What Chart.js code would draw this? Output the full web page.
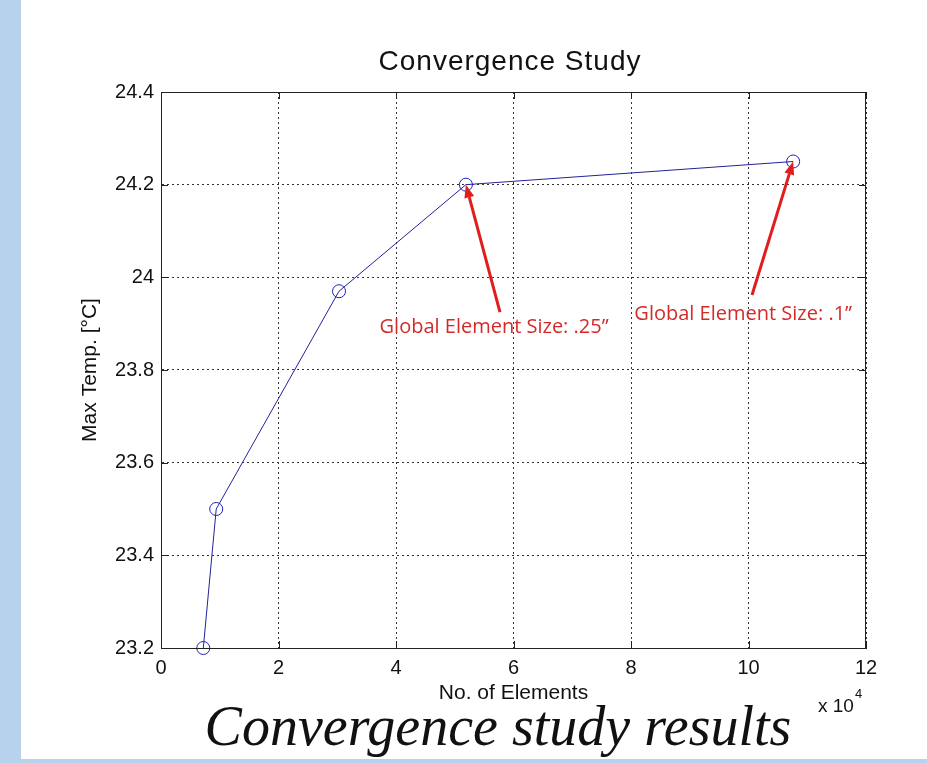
<!DOCTYPE html>
<html>
<head>
<meta charset="utf-8">
<script src="https://cdn.jsdelivr.net/npm/chart.js@4/dist/chart.umd.min.js"></script>
<style>
  html, body { margin: 0; padding: 0; background: #fff; overflow: hidden; }
  #wrap { position: relative; width: 927px; height: 763px; }
  #leftBar { position: absolute; left: 0; top: 0; width: 21px; height: 763px; background: #b6d2ec; }
  #bottomBar { position: absolute; left: 0; top: 759px; width: 927px; height: 4px; background: #b6d2ec; }
  canvas { position: absolute; left: 0; top: 0; }
</style>
</head>
<body>
<div id="wrap">
  <div id="leftBar"></div>
  <div id="bottomBar"></div>
  <canvas id="grafica" width="927" height="763"></canvas>
</div>
<script>
// number of elements, in units of 10^4
const nElements = [0.72, 0.94, 3.03, 5.19, 10.76];
// max temperature in deg C
const maxTemp = [23.2, 23.5, 23.97, 24.2, 24.25];

const xTicks = [0, 2, 4, 6, 8, 10, 12];
const yTicks = [23.2, 23.4, 23.6, 23.8, 24, 24.2, 24.4];

// red callouts: which point they point at, where the arrow starts, where the text sits
const noteTexts = ['Global Element Size: .25\u201D', 'Global Element Size: .1\u201D'];
const notePoint = [3, 4];
const noteTail = [[5.77, 23.925], [10.06, 23.962]];
const noteLabel = [[5.67, 23.893], [9.91, 23.921]];

const points = nElements.map((x, i) => ({ x: x, y: maxTemp[i] }));

const extras = {
    id: 'extras',
    afterDraw(chart) {
        const ctx = chart.ctx;
        const a = chart.chartArea;
        const xs = chart.scales.x, ys = chart.scales.y;
        ctx.save();

        // box on top/right
        ctx.strokeStyle = '#222';
        ctx.lineWidth = 1;
        ctx.strokeRect(a.left + 0.5, a.top + 0.5, a.right - a.left - 1, a.bottom - a.top);

        // inner tick marks like matlab
        ctx.beginPath();
        xTicks.forEach(v => {
            const px = Math.round(xs.getPixelForValue(v)) + 0.5;
            ctx.moveTo(px, a.bottom); ctx.lineTo(px, a.bottom - 7);
            ctx.moveTo(px, a.top); ctx.lineTo(px, a.top + 7);
        });
        yTicks.forEach(v => {
            const py = Math.round(ys.getPixelForValue(v)) + 0.5;
            ctx.moveTo(a.left, py); ctx.lineTo(a.left + 7, py);
            ctx.moveTo(a.right, py); ctx.lineTo(a.right - 7, py);
        });
        ctx.stroke();

        // title
        ctx.fillStyle = '#111';
        ctx.textAlign = 'center';
        ctx.textBaseline = 'middle';
        ctx.font = '28px "Liberation Sans", Arial, sans-serif';
        ctx.letterSpacing = '1px';
        ctx.fillText('Convergence Study', 510, 62);
        ctx.letterSpacing = '0px';

        // x 10^4
        ctx.textAlign = 'left';
        ctx.font = '19px "Liberation Sans", Arial, sans-serif';
        ctx.fillText('x 10', 818, 707);
        ctx.font = '13px "Liberation Sans", Arial, sans-serif';
        ctx.fillText('4', 855, 694);

        // arrows and labels
        noteTexts.forEach((t, i) => {
            const p = points[notePoint[i]];
            const hx = xs.getPixelForValue(p.x), hy = ys.getPixelForValue(p.y);
            const tx = xs.getPixelForValue(noteTail[i][0]), ty = ys.getPixelForValue(noteTail[i][1]);
            const ang = Math.atan2(hy - ty, hx - tx);
            const hl = 13, hw = 5;
            const bx = hx - hl * Math.cos(ang), by = hy - hl * Math.sin(ang);
            ctx.strokeStyle = '#e01e1e';
            ctx.fillStyle = '#e01e1e';
            ctx.lineWidth = 3;
            ctx.beginPath();
            ctx.moveTo(tx, ty);
            ctx.lineTo(bx, by);
            ctx.stroke();
            ctx.beginPath();
            ctx.moveTo(hx, hy);
            ctx.lineTo(bx + hw * Math.sin(ang), by - hw * Math.cos(ang));
            ctx.lineTo(bx - hw * Math.sin(ang), by + hw * Math.cos(ang));
            ctx.closePath();
            ctx.fill();

            ctx.fillStyle = '#d42a2a';
            ctx.font = '20px "Open Sans", sans-serif';
            ctx.textAlign = 'center';
            ctx.fillText(t, xs.getPixelForValue(noteLabel[i][0]), ys.getPixelForValue(noteLabel[i][1]));
        });

        // caption under the chart
        ctx.fillStyle = '#111';
        ctx.textAlign = 'center';
        ctx.textBaseline = 'alphabetic';
        ctx.font = 'italic 56px "Liberation Serif", "DejaVu Serif", serif';
        ctx.fillText('Convergence study results', 498, 745);
        ctx.restore();
    }
};

const ctx = document.getElementById('grafica').getContext('2d');
new Chart(ctx, {
    type: 'line',
    data: {
        datasets: [{
            label: 'Max Temp',
            data: points,
            borderColor: '#22229a',
            borderWidth: 1,
            pointStyle: 'circle',
            pointRadius: 6.5,
            pointBorderWidth: 1,
            pointBorderColor: '#2020c0',
            pointBackgroundColor: 'rgba(0,0,0,0)',
            tension: 0,
            clip: false
        }]
    },
    options: {
        responsive: false,
        animation: false,
        layout: { padding: { top: 92, left: 0, right: 61, bottom: 0 } },
        plugins: {
            legend: { display: false },
            title: { display: false },
            tooltip: { enabled: false }
        },
        scales: {
            x: {
                type: 'linear',
                min: 0,
                max: 12,
                afterFit: s => { s.height = 115; },
                afterBuildTicks: s => { s.ticks = xTicks.map(v => ({ value: v })); },
                ticks: {
                    color: '#111',
                    padding: 8,
                    maxRotation: 0,
                    font: { family: '"Liberation Sans", Arial, sans-serif', size: 20 },
                    callback: v => String(v)
                },
                grid: { color: '#333', lineWidth: 1, drawTicks: false },
                border: { display: true, color: '#222', width: 1, dash: [2, 3] },
                title: {
                    display: true,
                    text: 'No. of Elements',
                    color: '#111',
                    font: { family: '"Liberation Sans", Arial, sans-serif', size: 21 },
                    padding: { top: 0, bottom: 57 }
                }
            },
            y: {
                type: 'linear',
                min: 23.2,
                max: 24.4,
                afterFit: s => { s.width = 161; },
                afterBuildTicks: s => { s.ticks = yTicks.map(v => ({ value: v })); },
                ticks: {
                    color: '#111',
                    padding: 7,
                    font: { family: '"Liberation Sans", Arial, sans-serif', size: 20 },
                    callback: v => String(+v.toFixed(1))
                },
                grid: { color: '#333', lineWidth: 1, drawTicks: false },
                border: { display: true, color: '#222', width: 1, dash: [2, 3] },
                title: {
                    display: true,
                    text: 'Max Temp. [\u00B0C]',
                    color: '#111',
                    font: { family: '"Liberation Sans", Arial, sans-serif', size: 21 },
                    padding: { top: 78, bottom: 0 }
                }
            }
        }
    },
    plugins: [extras]
});
</script>
</body>
</html>
